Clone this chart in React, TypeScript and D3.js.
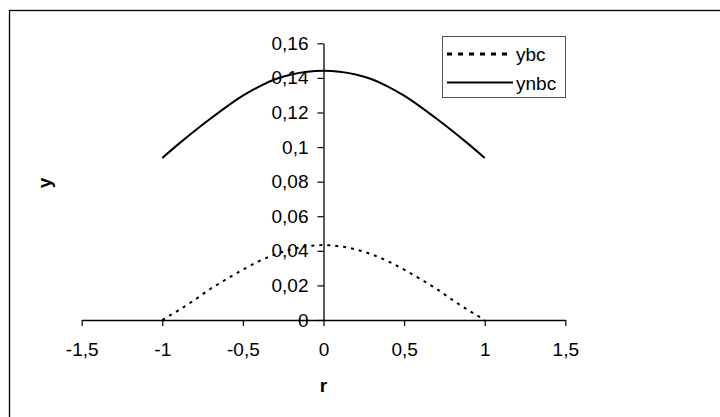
import React, { useEffect, useRef } from "react";
import * as d3 from "d3";

// values
const rValues = [-1, -0.9, -0.8, -0.7, -0.6, -0.5, -0.4, -0.3, -0.2, -0.1, 0, 0.1, 0.2, 0.3, 0.4, 0.5, 0.6, 0.7, 0.8, 0.9, 1];
const ybc = [0, 0.0056, 0.0116, 0.0181, 0.0237, 0.0291, 0.034, 0.0379, 0.0408, 0.0427, 0.0433, 0.0427, 0.0408, 0.0379, 0.034, 0.0291, 0.0237, 0.0181, 0.0116, 0.0056, 0];
const ynbc = [0.0937, 0.1017, 0.1093, 0.1165, 0.1234, 0.1297, 0.135, 0.1392, 0.142, 0.1436, 0.1441, 0.1436, 0.142, 0.1392, 0.135, 0.1297, 0.1234, 0.1165, 0.1093, 0.1017, 0.0937];

const xTicks = [-1.5, -1, -0.5, 0, 0.5, 1, 1.5];
const xTickLabels = ["-1,5", "-1", "-0,5", "0", "0,5", "1", "1,5"];
const yTicks = [0, 0.02, 0.04, 0.06, 0.08, 0.1, 0.12, 0.14, 0.16];
const yTickLabels = ["0", "0,02", "0,04", "0,06", "0,08", "0,1", "0,12", "0,14", "0,16"];

const seriesNames = ["ybc", "ynbc"];

const FONT = "'Liberation Sans', Arial, sans-serif";

const App = () => {
  const ref = useRef<SVGSVGElement>(null);

  useEffect(() => {
    const svg = d3.select(ref.current);
    svg.selectAll("*").remove();

    //outer frame (right and bottom run off the picture)
    svg
      .append("rect")
      .attr("x", 9.5)
      .attr("y", 10.5)
      .attr("width", 800)
      .attr("height", 600)
      .attr("fill", "white")
      .attr("stroke", "black")
      .attr("stroke-width", 1.3);

    //scales
    const x = d3.scaleLinear().domain([-1.5, 1.5]).range([81.7, 565.3]);
    const y = d3.scaleLinear().domain([0, 0.16]).range([320, 43.3]);

    //axes crossing at zero
    const xAxis = svg
      .append("g")
      .attr("transform", `translate(0,${y(0)})`)
      .call(
        d3
          .axisBottom(x)
          .tickValues(xTicks)
          .tickFormat((d, i) => xTickLabels[i])
          .tickSize(6)
          .tickSizeOuter(0)
          .tickPadding(17)
      );

    const yAxis = svg
      .append("g")
      .attr("transform", `translate(${x(0)},0)`)
      .call(
        d3
          .axisLeft(y)
          .tickValues(yTicks)
          .tickFormat((d, i) => yTickLabels[i])
          .tickSize(6)
          .tickSizeOuter(0)
          .tickPadding(9)
      );

    [xAxis, yAxis].forEach((g) => {
      g.select(".domain").attr("stroke", "black").attr("stroke-width", 1.3);
      g.selectAll(".tick line").attr("stroke", "black").attr("stroke-width", 1.2);
      g.selectAll(".tick text")
        .attr("fill", "black")
        .style("font-family", FONT)
        .style("font-size", "19px");
    });

    //lines
    const points = (vals: number[]) => rValues.map((r, i) => [r, vals[i]] as [number, number]);
    const line = d3
      .line<[number, number]>()
      .x((d) => x(d[0]))
      .y((d) => y(d[1]))
      .curve(d3.curveMonotoneX);

    svg
      .append("path")
      .attr("fill", "none")
      .attr("stroke", "black")
      .attr("stroke-width", 2)
      .attr("stroke-dasharray", "3,5")
      .attr("d", line(points(ybc)));

    svg
      .append("path")
      .attr("fill", "none")
      .attr("stroke", "black")
      .attr("stroke-width", 2)
      .attr("d", line(points(ynbc)));

    //axis titles
    svg
      .append("text")
      .attr("x", x(0))
      .attr("y", 391.5)
      .attr("text-anchor", "middle")
      .style("font-family", FONT)
      .style("font-size", "19px")
      .style("font-weight", "bold")
      .text("r");

    svg
      .append("text")
      .attr("transform", "translate(51,183) rotate(-90)")
      .attr("text-anchor", "middle")
      .style("font-family", FONT)
      .style("font-size", "19px")
      .style("font-weight", "bold")
      .text("y");

    //legend
    const legend = svg.append("g");
    legend
      .append("rect")
      .attr("x", 442.5)
      .attr("y", 36.5)
      .attr("width", 123)
      .attr("height", 61)
      .attr("fill", "white")
      .attr("stroke", "#555")
      .attr("stroke-width", 1);

    const rowY = [54, 82.5];
    seriesNames.forEach((name, i) => {
      legend
        .append("line")
        .attr("x1", 447)
        .attr("x2", 513)
        .attr("y1", rowY[i])
        .attr("y2", rowY[i])
        .attr("stroke", "black")
        .attr("stroke-width", i === 0 ? 3 : 2)
        .attr("stroke-dasharray", i === 0 ? "5,6" : null);
      legend
        .append("text")
        .attr("x", 516)
        .attr("y", rowY[i] + 7)
        .style("font-family", FONT)
        .style("font-size", "19px")
        .text(name);
    });
  }, []);

  return (
    <div style={{ position: "absolute", left: 0, top: 0 }}>
      <svg ref={ref} width={720} height={417} style={{ display: "block" }} />
    </div>
  );
};

export default App;
